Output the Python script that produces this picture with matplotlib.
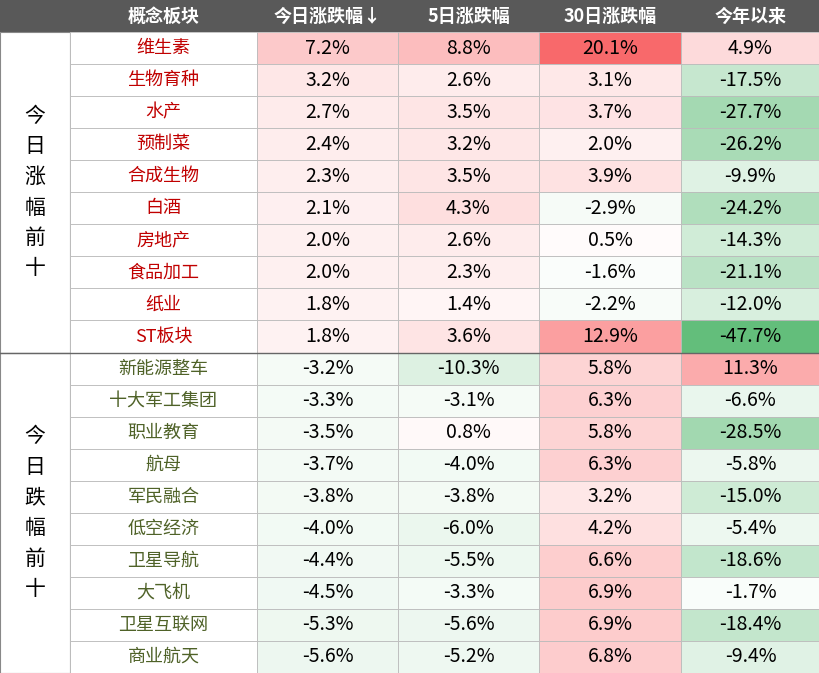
import numpy as np
import matplotlib.pyplot as plt
from matplotlib.patches import Rectangle
import matplotlib.colors as mc

plt.rcParams['font.family'] = 'Noto Sans CJK SC'

headers = ['概念板块', '今日涨跌幅↓', '5日涨跌幅', '30日涨跌幅', '今年以来']
groups = ['今\n日\n涨\n幅\n前\n十', '今\n日\n跌\n幅\n前\n十']
names = ['维生素', '生物育种', '水产', '预制菜', '合成生物', '白酒', '房地产', '食品加工', '纸业', 'ST板块',
         '新能源整车', '十大军工集团', '职业教育', '航母', '军民融合', '低空经济', '卫星导航', '大飞机', '卫星互联网', '商业航天']
today = [7.2, 3.2, 2.7, 2.4, 2.3, 2.1, 2.0, 2.0, 1.8, 1.8,
         -3.2, -3.3, -3.5, -3.7, -3.8, -4.0, -4.4, -4.5, -5.3, -5.6]
d5 = [8.8, 2.6, 3.5, 3.2, 3.5, 4.3, 2.6, 2.3, 1.4, 3.6,
      -10.3, -3.1, 0.8, -4.0, -3.8, -6.0, -5.5, -3.3, -5.6, -5.2]
d30 = [20.1, 3.1, 3.7, 2.0, 3.9, -2.9, 0.5, -1.6, -2.2, 12.9,
       5.8, 6.3, 5.8, 6.3, 3.2, 4.2, 6.6, 6.9, 6.9, 6.8]
ytd = [4.9, -17.5, -27.7, -26.2, -9.9, -24.2, -14.3, -21.1, -12.0, -47.7,
       11.3, -6.6, -28.5, -5.8, -15.0, -5.4, -18.6, -1.7, -18.4, -9.4]
cols = [today, d5, d30, ytd]

W, H = 820, 673
hh = 32
rh = (H - hh) / len(names)
xs = [0, 70, 257, 398, 539, 681, 820]

fig = plt.figure(figsize=(W / 100, H / 100), dpi=100)
ax = fig.add_axes([0, 0, 1, 1])
ax.set_xlim(0, W)
ax.set_ylim(H, 0)
ax.axis('off')

red = np.array(mc.to_rgb('#f8696b'))
green = np.array(mc.to_rgb('#63be7b'))
white = np.array([1.0, 1.0, 1.0])
vmax = max(max(c) for c in cols)
vmin = min(min(c) for c in cols)


def cell_color(v):
    # one colour scale for the whole table
    if v >= 0:
        return white + (red - white) * (v / vmax)
    return white + (green - white) * (v / vmin)


ax.add_patch(Rectangle((0, 0), W, hh, color='#595959', lw=0))
for i, h in enumerate(headers):
    x0, x1 = (xs[1], xs[2]) if i == 0 else (xs[i + 1], xs[i + 2])
    ax.text((x0 + x1) / 2, hh / 2, h, color='white', ha='center', va='center', fontsize=13, fontweight='bold')

for g, lab in enumerate(groups):
    y0 = hh + g * 10 * rh
    ax.add_patch(Rectangle((0, y0), 70, 10 * rh, fc='white', ec='#888888', lw=0.8))
    ax.text(35, y0 + 5 * rh, lab, ha='center', va='center', fontsize=15, linespacing=1.5)

for r, name in enumerate(names):
    y0 = hh + r * rh
    ax.add_patch(Rectangle((xs[1], y0), xs[2] - xs[1], rh, fc='white', ec='#bbbbbb', lw=0.6))
    ax.text((xs[1] + xs[2]) / 2, y0 + rh / 2, name, ha='center', va='center', fontsize=13,
            color='#c00000' if r < 10 else '#4f6228')
    for c, col in enumerate(cols):
        v = col[r]
        ax.add_patch(Rectangle((xs[c + 2], y0), xs[c + 3] - xs[c + 2], rh, fc=cell_color(v),
                               ec='#bbbbbb', lw=0.6))
        ax.text((xs[c + 2] + xs[c + 3]) / 2, y0 + rh / 2, f'{v:.1f}%', ha='center', va='center',
                fontsize=14, color='black')

ax.plot([0, W], [hh + 10 * rh, hh + 10 * rh], color='#666666', lw=1)
fig.savefig('out.png', dpi=100)
